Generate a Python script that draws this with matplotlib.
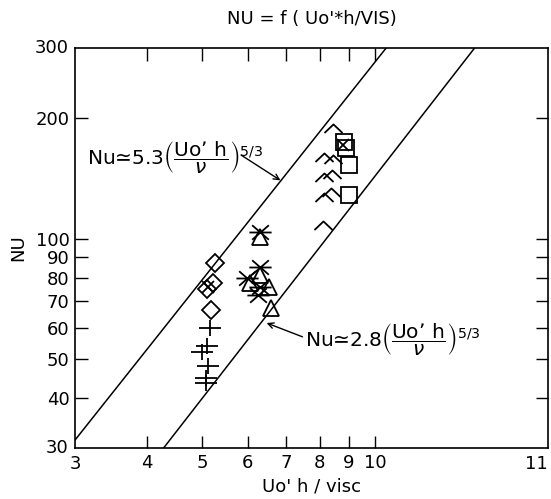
import numpy as np
import matplotlib
matplotlib.use("Agg")
import matplotlib.pyplot as plt
from matplotlib.path import Path
from matplotlib.ticker import FixedLocator, NullLocator

# ---- data ----
diamond_x = [5.25, 5.21, 5.09, 5.17]
diamond_y = [87, 77.5, 75, 66.4]

plus_x = [5.15, 5.10, 5.00, 5.12, 5.08, 5.08]
plus_y = [60, 54, 52, 48, 45, 43.5]

star_x = [6.31, 6.31, 5.97, 6.31, 6.26]
star_y = [104, 85, 80, 76, 72.5]

tri_x = [6.31, 6.31, 6.06, 6.52, 6.59]
tri_y = [101, 81, 77.4, 76, 67]

chev_x = [8.45, 8.15, 8.43, 8.15, 8.40, 8.15, 8.37, 8.12]
chev_y = [189, 160, 158, 143, 145, 127, 131, 108]

square_x = [8.83, 8.90, 9.00, 9.02]
square_y = [175, 169, 153, 128.6]

cross_x = [8.80, 5.12]
cross_y = [172, 76]

# the two correlation lines as drawn in the reference (end points)
upper_line_x = [3.0, 10.45]
upper_line_y = [31.4, 300]
lower_line_x = [4.28, 14.9]
lower_line_y = [30, 300]

xticks = [4, 5, 6, 7, 8, 9, 10]
xtick_labels = ["4", "5", "6", "7", "8", "9", "10"]
yticks = [40, 50, 60, 70, 80, 90, 100, 200]
ytick_labels = ["40", "50", "60", "70", "80", "90", "100", "200"]

plt.rcParams['font.family'] = ['DejaVu Sans']
plt.rcParams['mathtext.fontset'] = 'dejavusans'

fig = plt.figure(figsize=(5.51, 4.99), dpi=100)
ax = fig.add_axes([75 / 551, 1 - 448 / 499, (548 - 75) / 551, (448 - 48) / 499])
ax.set_xscale('log')
ax.set_yscale('log')
ax.set_xlim(3, 20)
ax.set_ylim(30, 300)

ax.plot(upper_line_x, upper_line_y, color='black', lw=1.1)
ax.plot(lower_line_x, lower_line_y, color='black', lw=1.1)

# custom marker shapes
M, L = Path.MOVETO, Path.LINETO
star_path = Path([(-1, 0), (1, 0), (-0.75, -0.65), (0.75, 0.65), (-0.75, 0.65), (0.75, -0.65)],
                 [M, L, M, L, M, L])
plus_path = Path([(-1, 0), (1, 0), (0, -0.75), (0, 0.75)], [M, L, M, L])
chev_path = Path([(-1, -0.5), (0, 0.45), (1, -0.5)], [M, L, L])

mk = dict(color='black', linestyle='none', markerfacecolor='none', markeredgewidth=1.3)
ax.plot(diamond_x, diamond_y, marker='D', markersize=9, **mk)
ax.plot(plus_x, plus_y, marker=plus_path, markersize=16, **mk)
ax.plot(star_x, star_y, marker=star_path, markersize=16, **mk)
ax.plot(tri_x, tri_y, marker='^', markersize=11, **mk)
ax.plot(chev_x, chev_y, marker=chev_path, markersize=13, **mk)
ax.plot(square_x, square_y, marker='s', markersize=12, **mk)
ax.plot(cross_x, cross_y, marker='x', markersize=8, **mk)

ax.xaxis.set_major_locator(FixedLocator(xticks))
ax.xaxis.set_minor_locator(NullLocator())
ax.set_xticks(xticks, xtick_labels)
ax.yaxis.set_major_locator(FixedLocator(yticks))
ax.yaxis.set_minor_locator(NullLocator())
ax.set_yticks(yticks, ytick_labels)
ax.tick_params(direction='in', length=9, width=1.0, top=True, right=True,
               labelsize=13, pad=4)

# end labels
ax.text(3, 28.8, "3", ha='center', va='top', fontsize=13)
ax.text(20, 28.8, "11", ha='right', va='top', fontsize=13)
ax.text(2.92, 30, "30", ha='right', va='center', fontsize=13)
ax.text(2.92, 300, "300", ha='right', va='center', fontsize=13)

for s in ax.spines.values():
    s.set_linewidth(1.2)

ax.set_title("NU = f ( Uo'*h/VIS)", fontsize=13, pad=17)
ax.set_xlabel("Uo' h / visc", fontsize=13, labelpad=4)
ax.set_ylabel("NU", fontsize=13, labelpad=6)

frac = r"$\left(\dfrac{\mathrm{Uo" + "\u2019" + r"\ h}}{\nu}\right)^{5/3}$"
ax.text(3.15, 159, "Nu\u22435.3" + frac, fontsize=14.5, va='center', ha='left')
ax.annotate("", xy=(6.84, 140), xytext=(5.84, 162),
            arrowprops=dict(arrowstyle='->', color='black', lw=1.0,
                            shrinkA=0, shrinkB=0))
ax.text(7.56, 56, "Nu\u22432.8" + frac, fontsize=14.5, va='center', ha='left')
ax.annotate("", xy=(6.47, 61.6), xytext=(7.47, 56.9),
            arrowprops=dict(arrowstyle='->', color='black', lw=1.0,
                            shrinkA=0, shrinkB=0))

fig.savefig("out.png", dpi=100)
